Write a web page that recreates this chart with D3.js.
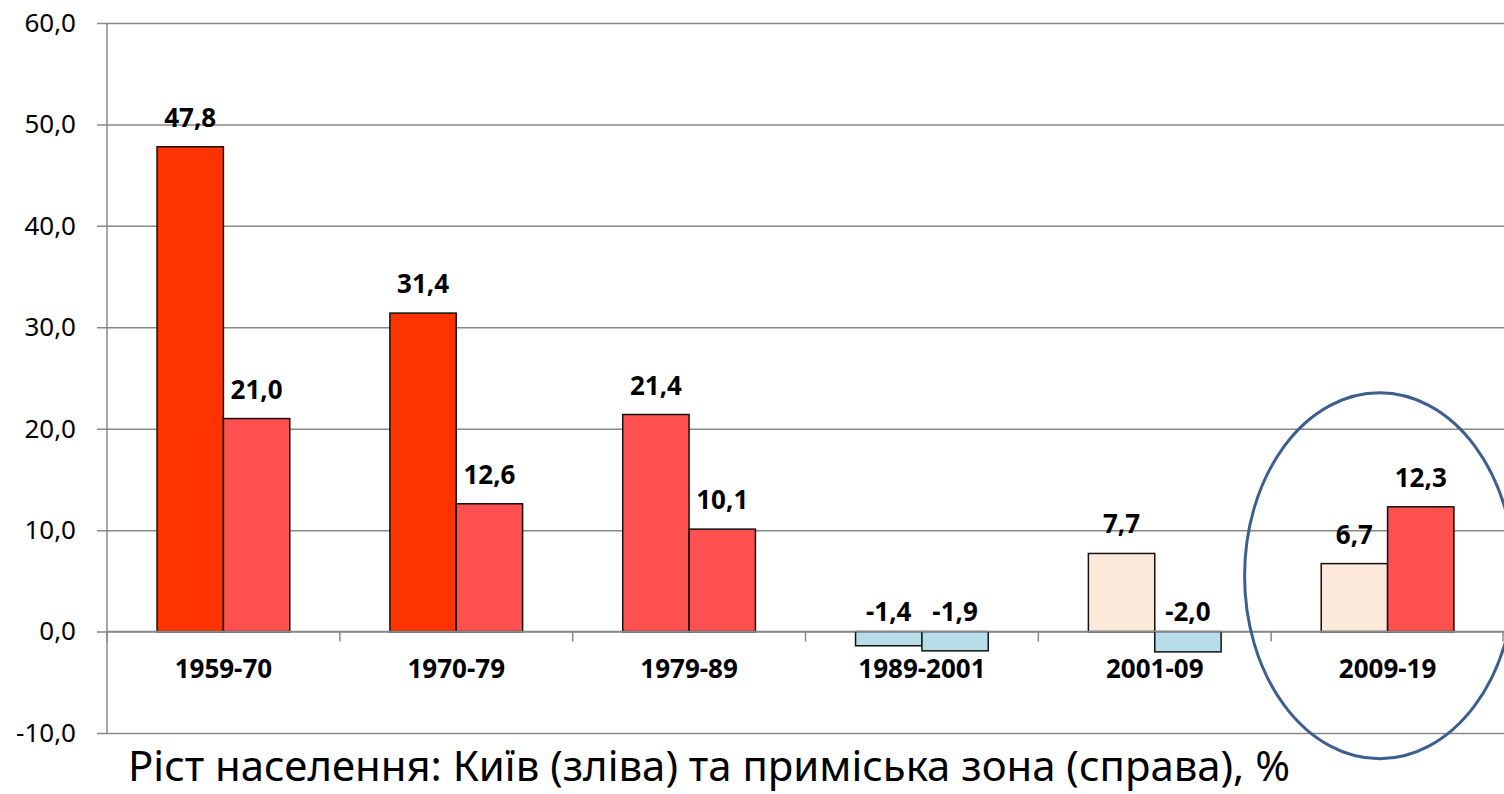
<!DOCTYPE html>
<html>
<head>
<meta charset="utf-8">
<script src="https://cdn.jsdelivr.net/npm/d3@7"></script>
<style>
  body { margin: 0; background: #fff; }
  svg { display: block; font-family: "Noto Sans", "Open Sans", sans-serif; }
</style>
</head>
<body>
<figure style="margin:0"></figure>
<script>
const periods = ['1959-70', '1970-79', '1979-89', '1989-2001', '2001-09', '2009-19'];
const kyiv = [47.8, 31.4, 21.4, -1.4, 7.7, 6.7];
const suburbs = [21.0, 12.6, 10.1, -1.9, -2.0, 12.3];
const yTicks = [-10, 0, 10, 20, 30, 40, 50, 60];
const title = 'Ріст населення: Київ (зліва) та приміська зона (справа), %';

(() => {
  const totalWidth = 1504;
  const totalHeight = 794;
  const left = 107, right = 1504, top = 23, bottom = 733;

  const svg = d3.select('figure').append('svg')
    .attr('width', totalWidth)
    .attr('height', totalHeight);

  const fmt = (v) => d3.format('.1f')(v).replace('.', ',').replace('−', '-');

  const x = d3.scaleBand().domain(periods).range([left, right])
    .paddingInner(0.43).paddingOuter(0.215);
  const xSub = d3.scaleBand().domain(['kyiv', 'suburbs']).range([0, x.bandwidth()]);
  const y = d3.scaleLinear().domain([-10, 60]).range([bottom, top]);

  // fill depends on the size of the growth
  const color = d3.scaleThreshold()
    .domain([0, 10, 30])
    .range(['#b7dee8', '#fde9d9', '#ff5050', '#ff3300']);

  // gridlines + y labels
  const yAxis = svg.append('g')
    .attr('transform', 'translate(' + left + ',0)')
    .call(d3.axisLeft(y).tickValues(yTicks).tickSize(10).tickFormat(fmt));
  yAxis.select('.domain').attr('stroke', '#888').attr('stroke-width', 1.5)
    .attr('d', 'M0,' + top + 'V' + bottom);
  yAxis.selectAll('.tick line').attr('stroke', '#888').attr('stroke-width', 1.5)
    .attr('x1', -10).attr('x2', right - left);
  yAxis.selectAll('.tick text')
    .attr('x', -31)
    .attr('font-size', 26)
    .attr('font-family', '"Noto Sans", sans-serif')
    .attr('fill', '#000');

  const rows = periods.map((p, i) => ({
    period: p,
    values: [{key: 'kyiv', v: kyiv[i]}, {key: 'suburbs', v: suburbs[i]}]
  }));

  const groups = svg.append('g').selectAll('g')
    .data(rows)
    .join('g')
    .attr('transform', (d) => 'translate(' + x(d.period) + ',0)');

  groups.selectAll('rect')
    .data((d) => d.values)
    .join('rect')
    .attr('x', (d) => xSub(d.key))
    .attr('width', xSub.bandwidth())
    .attr('y', (d) => y(Math.max(0, d.v)))
    .attr('height', (d) => Math.abs(y(d.v) - y(0)))
    .attr('fill', (d) => color(d.v))
    .attr('stroke', '#111')
    .attr('stroke-width', 1.5);

  groups.selectAll('text.val')
    .data((d) => d.values)
    .join('text')
    .attr('class', 'val')
    .attr('x', (d) => xSub(d.key) + xSub.bandwidth() / 2)
    .attr('y', (d) => d.v >= 0 ? y(d.v) - 20 : y(0) - 11)
    .attr('text-anchor', 'middle')
    .attr('font-size', 26)
    .attr('font-weight', 'bold')
    .text((d) => fmt(d.v));

  // x axis on the zero line
  const xAxis = svg.append('g')
    .attr('transform', 'translate(0,' + y(0) + ')')
    .call(d3.axisBottom(x).tickSize(0).tickPadding(28));
  xAxis.select('.domain').attr('stroke', '#888').attr('stroke-width', 1.5)
    .attr('d', 'M' + left + ',0H' + right);
  xAxis.selectAll('.tick text')
    .attr('font-size', 26)
    .attr('font-weight', 'bold')
    .attr('font-family', '"Noto Sans", sans-serif')
    .attr('fill', '#000');
  xAxis.selectAll('line.sep')
    .data(periods.map((p) => x(p) - x.step() * x.paddingInner() / 2).concat([right - 1]))
    .join('line')
    .attr('class', 'sep')
    .attr('x1', (d) => d).attr('x2', (d) => d)
    .attr('y1', 0).attr('y2', 10)
    .attr('stroke', '#888').attr('stroke-width', 1.5);

  // highlight of the last period
  svg.append('ellipse')
    .attr('cx', x('2009-19') + x.bandwidth() / 2 - 8)
    .attr('cy', y(5.5))
    .attr('rx', 135)
    .attr('ry', 183)
    .attr('fill', 'none')
    .attr('stroke', '#3d5f8e')
    .attr('stroke-width', 3);

  svg.append('text')
    .attr('x', 128)
    .attr('y', 781)
    .attr('font-size', 42)
    .attr('textLength', 1162)
    .attr('lengthAdjust', 'spacingAndGlyphs')
    .text(title);
})();
</script>
</body>
</html>
